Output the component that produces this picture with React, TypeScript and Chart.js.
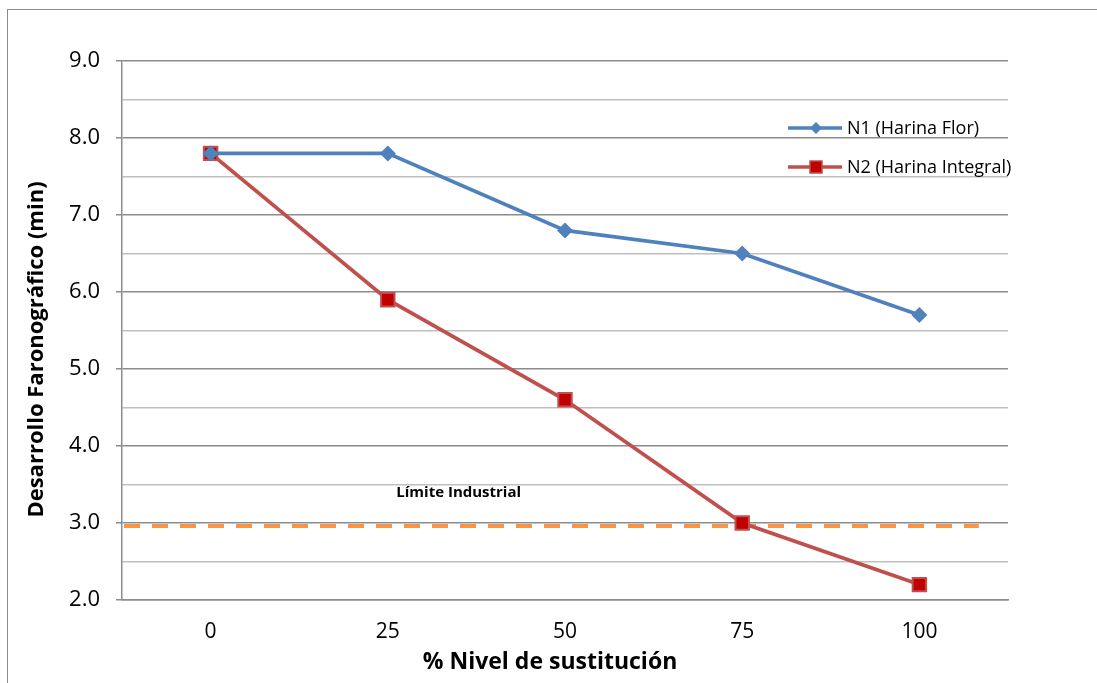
import React, { useEffect, useRef } from "react";
import { Chart, registerables } from "chart.js";

Chart.register(...registerables);

const categories = ["0", "25", "50", "75", "100"];
const seriesN1 = [7.8, 7.8, 6.8, 6.5, 5.7];
const seriesN2 = [7.8, 5.9, 4.6, 3.0, 2.2];
const seriesLabels = ["N1 (Harina Flor)", "N2 (Harina Integral)"];
const industrialLimit = 2.96;
const limitLabel = "Límite Industrial";
const yTitle = "Desarrollo Faronográfico (min)";
const xTitle = "% Nivel de sustitución";

const FONT = "'Open Sans', Lato, sans-serif";
const BLUE = "#4F81BD";
const RED = "#C0504D";
const DARK_RED = "#C00000";
const ORANGE = "#F79646";

const isMajor = (v: number) => Number.isInteger(Math.round(v * 100) / 100);

// Draws the industrial-limit dashed line, its caption, both axis titles and the legend
const overlayPlugin = {
  id: "overlay",
  beforeDatasetsDraw(chart: any) {
    const { ctx, chartArea, scales } = chart;
    const y = scales.y.getPixelForValue(industrialLimit);
    ctx.save();
    ctx.strokeStyle = ORANGE;
    ctx.lineWidth = 4;
    ctx.setLineDash([16, 12]);
    ctx.beginPath();
    ctx.moveTo(chartArea.left + 2, y);
    ctx.lineTo(chartArea.left + (chartArea.right - chartArea.left) * 0.967, y);
    ctx.stroke();
    ctx.setLineDash([]);
    ctx.fillStyle = "#000";
    ctx.font = `bold 15px ${FONT}`;
    ctx.textAlign = "center";
    ctx.textBaseline = "middle";
    const lx = scales.x.getPixelForValue(1.4);
    ctx.fillText(limitLabel, lx, y - 33);
    ctx.restore();
  },
  afterDraw(chart: any) {
    const { ctx, chartArea } = chart;
    ctx.save();
    ctx.fillStyle = "#000";
    ctx.textAlign = "center";
    ctx.textBaseline = "middle";
    // x axis title
    ctx.font = `bold 23px ${FONT}`;
    ctx.fillText(xTitle, (chartArea.left + chartArea.right) / 2 - 15, 662);
    // y axis title
    ctx.font = `bold 22px ${FONT}`;
    ctx.translate(37, (chartArea.top + chartArea.bottom) / 2 + 19);
    ctx.rotate(-Math.PI / 2);
    ctx.fillText(yTitle, 0, 0);
    ctx.restore();

    // legend
    ctx.save();
    const items = [
      { label: seriesLabels[0], color: BLUE, y: 128, kind: "diamond" },
      { label: seriesLabels[1], color: RED, y: 167, kind: "square" },
    ];
    const x0 = 788;
    const x1 = 842;
    for (const it of items) {
      ctx.strokeStyle = it.color;
      ctx.lineWidth = 3.5;
      ctx.beginPath();
      ctx.moveTo(x0, it.y);
      ctx.lineTo(x1, it.y);
      ctx.stroke();
      const mx = 816;
      if (it.kind === "diamond") {
        ctx.fillStyle = BLUE;
        ctx.beginPath();
        ctx.moveTo(mx, it.y - 6);
        ctx.lineTo(mx + 6, it.y);
        ctx.lineTo(mx, it.y + 6);
        ctx.lineTo(mx - 6, it.y);
        ctx.closePath();
        ctx.fill();
      } else {
        ctx.fillStyle = DARK_RED;
        ctx.fillRect(mx - 6, it.y - 6, 12, 12);
        ctx.strokeStyle = RED;
        ctx.lineWidth = 1.5;
        ctx.strokeRect(mx - 6, it.y - 6, 12, 12);
      }
      ctx.fillStyle = "#000";
      ctx.font = `18px ${FONT}`;
      ctx.textAlign = "left";
      ctx.textBaseline = "middle";
      ctx.fillText(it.label, x1 + 5, it.y + 1);
    }
    ctx.restore();
  },
};

export default function App() {
  const ref = useRef<HTMLCanvasElement | null>(null);

  useEffect(() => {
    if (!ref.current) return;
    const chart = new Chart(ref.current, {
      type: "line",
      data: {
        labels: categories,
        datasets: [
          {
            label: seriesLabels[0],
            data: seriesN1,
            borderColor: BLUE,
            backgroundColor: BLUE,
            borderWidth: 3.75,
            pointStyle: "rectRot",
            pointRadius: 8,
            pointBorderWidth: 0,
            pointBackgroundColor: BLUE,
            tension: 0,
          },
          {
            label: seriesLabels[1],
            data: seriesN2,
            borderColor: RED,
            backgroundColor: DARK_RED,
            borderWidth: 3.75,
            pointStyle: "rect",
            pointRadius: 9.5,
            pointBorderWidth: 2,
            pointBorderColor: RED,
            pointBackgroundColor: DARK_RED,
            tension: 0,
          },
        ],
      },
      options: {
        responsive: false,
        animation: false,
        layout: { padding: { left: 0, right: 89, top: 61, bottom: 0 } },
        plugins: {
          legend: { display: false },
          tooltip: { enabled: false },
        },
        scales: {
          x: {
            type: "category",
            offset: true,
            grid: { display: false, drawTicks: false },
            border: { display: true, color: "#8c8c8c", width: 1.5 },
            ticks: {
              color: "#000",
              font: { family: FONT, size: 21 },
              padding: 19,
              maxRotation: 0,
            },
            title: { display: false },
            afterFit: (s: any) => {
              s.height = 83;
            },
          },
          y: {
            min: 2,
            max: 9,
            grid: {
              color: (c: any) => (isMajor(c.tick?.value) ? "#8c8c8c" : "#bfbfbf"),
              lineWidth: 1.5,
              tickLength: 6,
              tickColor: (c: any) => (isMajor(c.tick?.value) ? "#8c8c8c" : "rgba(0,0,0,0)"),
            },
            border: { display: true, color: "#8c8c8c", width: 1.5 },
            ticks: {
              stepSize: 0.5,
              color: "#000",
              padding: 16,
              font: { family: FONT, size: 22 },
              callback: (v: any) => (isMajor(Number(v)) ? Number(v).toFixed(1) : ""),
            },
            afterFit: (s: any) => {
              s.width = 122;
            },
          },
        },
      },
      plugins: [overlayPlugin],
    });
    return () => chart.destroy();
  }, []);

  return (
    <div style={{ position: "fixed", left: 0, top: 0, width: 1097, height: 683, background: "#fff" }}>
      <div
        style={{
          position: "absolute",
          left: 7,
          top: 9,
          width: 1200,
          height: 800,
          border: "1.5px solid #8c8c8c",
          boxSizing: "border-box",
        }}
      />
      <canvas ref={ref} width={1097} height={683} style={{ position: "absolute", left: 0, top: 0 }} />
    </div>
  );
}
